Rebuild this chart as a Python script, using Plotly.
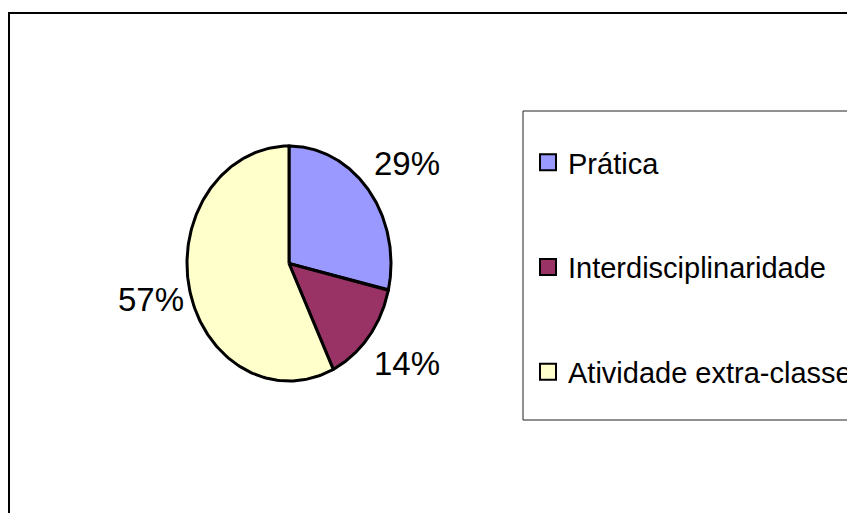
import numpy as np
import plotly.graph_objects as go

# ---- data ----
categories = ["Prática", "Interdisciplinaridade", "Atividade extra-classe"]
values = [2, 1, 4]
colors = ["#9999FF", "#993366", "#FFFFCC"]

# ---- layout constants (screen pixels; page body has an 8px margin) ----
W, H = 855, 513
OFF = 8
CX, CY = 289, 263.5
RX, RY = 102, 117.5
GX, GY = 44, 43
LABEL_SHIFT_X = 4
FONT = "Liberation Sans, Arial, sans-serif"


def px(x):
    return (x - OFF) / W


def py(y):
    return 1 - (y - OFF) / H


fig = go.Figure()

total = float(sum(values))
cum = np.cumsum([0] + values) / total
for i, (cat, v, col) in enumerate(zip(categories, values, colors)):
    a0, a1 = cum[i] * 2 * np.pi, cum[i + 1] * 2 * np.pi
    t = np.linspace(a0, a1, 160)
    xs = np.concatenate([[CX], CX + RX * np.sin(t), [CX]])
    ys = np.concatenate([[CY], CY - RY * np.cos(t), [CY]])
    fig.add_trace(go.Scatter(x=xs, y=ys, mode="lines", fill="toself",
                             fillcolor=col, line=dict(color="black", width=3),
                             showlegend=False, hoverinfo="skip"))
    mid = (a0 + a1) / 2
    s, c = np.sin(mid), np.cos(mid)
    lx = CX + (RX + GX) * s + LABEL_SHIFT_X
    ly = CY - (RY + GY) * c
    pct = f"{round(v / total * 100):.0f}%"
    fig.add_annotation(x=lx, y=ly, text=pct, showarrow=False, xanchor="center",
                       yanchor="middle", font=dict(family=FONT, size=33, color="black"))

for i, (cat, col) in enumerate(zip(categories, colors)):
    fig.add_trace(go.Scatter(x=[None], y=[None], mode="markers", name=cat,
                             legendgroup=f"g{i}",
                             marker=dict(symbol="square", size=16, color=col,
                                         line=dict(color="black", width=2))))

fig.update_layout(
    width=W, height=H,
    margin=dict(l=0, r=0, t=0, b=0),
    paper_bgcolor="white", plot_bgcolor="white",
    xaxis=dict(range=[OFF, OFF + W], visible=False, fixedrange=True),
    yaxis=dict(range=[OFF + H, OFF], visible=False, fixedrange=True),
    showlegend=True,
    legend=dict(x=px(528), y=py(137), xanchor="left", yanchor="top",
                font=dict(family=FONT, size=29, color="black"),
                tracegroupgap=64, borderwidth=0, bgcolor="rgba(0,0,0,0)",
                itemclick=False, itemdoubleclick=False),
    shapes=[
        dict(type="rect", xref="paper", yref="paper", x0=px(9), x1=1.2,
             y0=-0.2, y1=py(13), line=dict(color="black", width=2),
             fillcolor="rgba(0,0,0,0)", layer="below"),
        dict(type="rect", xref="paper", yref="paper", x0=px(523), x1=1.2,
             y0=py(420), y1=py(111), line=dict(color="#222222", width=1),
             fillcolor="white", layer="below"),
    ],
)

fig.write_html("out.html")
